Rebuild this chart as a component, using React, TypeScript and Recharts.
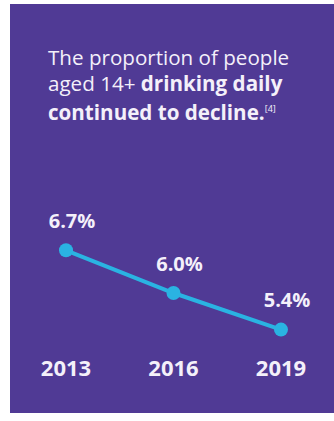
import React from "react";
import { LineChart, Line, XAxis, YAxis, LabelList } from "recharts";

const years = ["2013", "2016", "2019"];
const rates = [6.7, 6.0, 5.4];
const rateLabels = ["6.7%", "6.0%", "5.4%"];

const data = years.map((y, i) => ({ year: y, rate: rates[i], label: rateLabels[i] }));

const PANEL = "#503a95";
const LINE = "#2ab3e2";
const TEXT = "#f4f0fa";
const FONT = "'Open Sans', sans-serif";

const ValueLabel = (props: any) => {
  const { x, y, value } = props;
  return (
    <text x={x + 6} y={y - 30} textAnchor="middle" dominantBaseline="central" fill={TEXT} fontFamily={FONT} fontWeight={700} fontSize={20}>
      {value}
    </text>
  );
};

const YearTick = (props: any) => {
  const { x, y, payload } = props;
  return (
    <text x={x} y={y} dy={14} textAnchor="middle" fill={TEXT} fontFamily={FONT} fontWeight={700} fontSize={22}>
      {payload.value}
    </text>
  );
};

export default function App() {
  return (
    <div style={{ position: "fixed", left: 10, top: 4, width: 324, height: 409, background: PANEL, overflow: "hidden" }}>
      <div style={{ position: "absolute", left: 38, top: 40, fontFamily: FONT, fontSize: 20.6, lineHeight: "26px", color: TEXT, whiteSpace: "nowrap" }}>
        The proportion of people
        <br />
        aged 14+ <b>drinking daily</b>
        <br />
        <b>continued to decline.</b>
        <sup style={{ fontSize: 9, fontWeight: 400, verticalAlign: "8px" }}>[4]</sup>
      </div>
      <div style={{ position: "absolute", left: 0, top: 186 }}>
        <LineChart width={324} height={220} data={data} margin={{ top: 42, right: 53, bottom: 26, left: 56 }}>
          <XAxis dataKey="year" axisLine={false} tickLine={false} tick={<YearTick />} interval={0} />
          <YAxis hide domain={[5, 7]} />
          <Line type="linear" dataKey="rate" stroke={LINE} strokeWidth={4} dot={{ r: 7, fill: LINE, stroke: LINE, strokeWidth: 0 }} isAnimationActive={false}>
            <LabelList dataKey="label" content={<ValueLabel />} />
          </Line>
        </LineChart>
      </div>
    </div>
  );
}
